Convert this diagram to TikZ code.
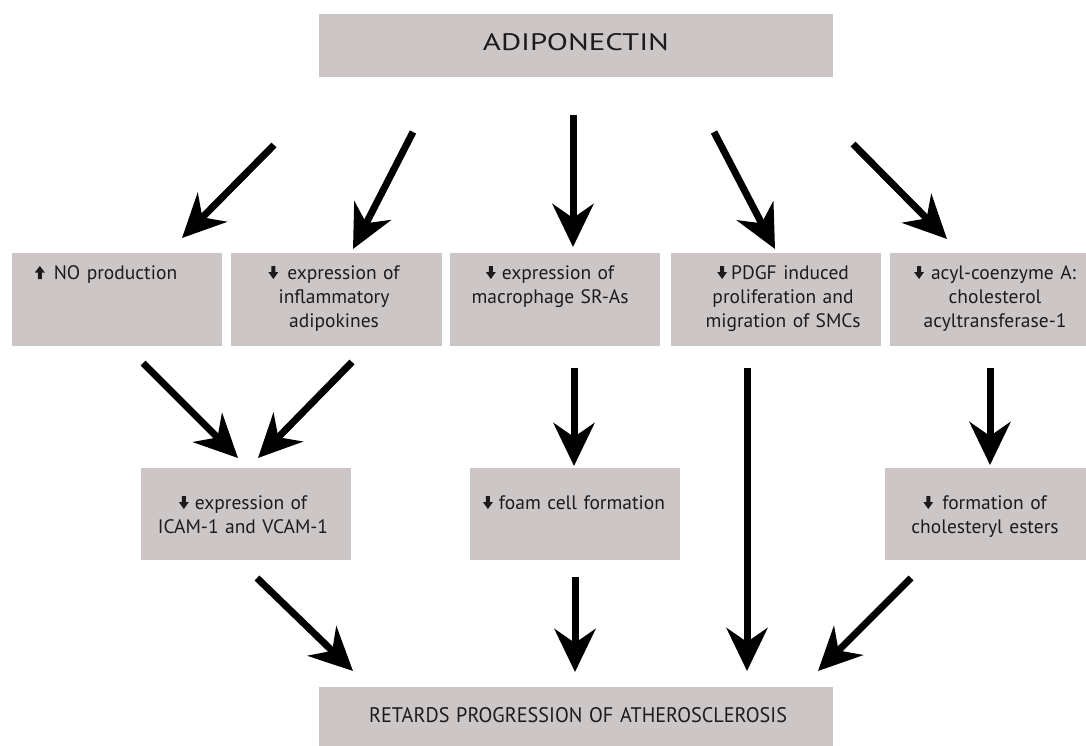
\documentclass[tikz,border=0pt]{standalone}
\usepackage{graphicx}
\usepackage{fontspec}
\setmainfont{PT Sans}
\usetikzlibrary{arrows.meta,calc}
\definecolor{boxfill}{RGB}{205,198,198}
\definecolor{txtcol}{RGB}{30,26,27}
\newcommand\dnarr{\tikz[x=1pt,y=1pt,baseline=0pt]\fill[txtcol] (0,0)--(-5,7)--(-2,7)--(-2,13)--(2,13)--(2,7)--(5,7)--cycle;}
\newcommand\uparr{\tikz[x=1pt,y=1pt,baseline=0pt]\fill[txtcol] (0,13)--(-5,6.5)--(-2,6.5)--(-2,0)--(2,0)--(2,6.5)--(5,6.5)--cycle;}
\begin{document}
\begin{tikzpicture}[x=1pt,y=-1pt,
  box/.style={fill=boxfill, draw=none, inner sep=0pt, minimum width=210pt, minimum height=93pt},
  lbl/.style={text=txtcol, font=\fontsize{19.5pt}{24pt}\selectfont, align=center, text width=208pt, inner sep=0pt, anchor=base},
  flow/.style={line width=7pt, draw=black, -{Stealth[length=43pt,width=41pt,inset=14pt]}}]
\useasboundingbox (0,0) rectangle (1086,745);
\clip (0,0) rectangle (1086,745);
% boxes
\node[box, minimum width=514pt, minimum height=63pt] (top) at (576,45.5) {};
\node[box] (b1) at (117,299.5) {};
\node[box, minimum width=211pt] (b2) at (336.5,299.5) {};
\node[box] (b3) at (555,299.5) {};
\node[box] (b4) at (776,299.5) {};
\node[box] (b5) at (995,299.5) {};
\node[box, minimum height=92pt] (rA) at (246,514) {};
\node[box, minimum height=92pt] (rB) at (575,514) {};
\node[box, minimum height=92pt] (rC) at (990,514) {};
\node[box, minimum width=514pt, minimum height=65pt] (bot) at (576,719.5) {};
% texts
\node[lbl, text width=300pt] (ttop) at (576,50) {\resizebox{186pt}{17pt}{ADIPONECTIN}};
\node[lbl, text width=500pt] (tbot) at (578,722) {\resizebox{418pt}{15pt}{RETARDS PROGRESSION OF ATHEROSCLEROSIS}};
\node[lbl] (t1) at (106,279) {\uparr\hspace{9pt}NO production};
\node[lbl] (t2) at (334,279) {\dnarr\hspace{9pt}expression of\\inflammatory\\adipokines};
\node[lbl] (t3) at (550,279) {\dnarr\hspace{6pt}expression of\\macrophage SR-As};
\node[lbl] (t4) at (783,279) {\dnarr\hspace{4pt}PDGF induced\\proliferation and\\migration of SMCs};
\node[lbl] (t5) at (995,279) {\dnarr\hspace{7pt}acyl-coenzyme A:\\cholesterol\\acyltransferase-1};
\node[lbl] (tA) at (243,509) {\dnarr\hspace{6pt}expression of\\ICAM-1 and VCAM-1};
\node[lbl] (tB) at (574,509) {\dnarr\hspace{6pt}foam cell formation};
\node[lbl] (tC) at (985,509) {\dnarr\hspace{9pt}formation of\\cholesteryl esters};
% arrow end points
\coordinate (a1s) at (274,145); \coordinate (a1e) at (182,238);
\coordinate (a2s) at (413,132); \coordinate (a2e) at (353,249);
\coordinate (a3s) at (573,115); \coordinate (a3e) at (573,247);
\coordinate (a4s) at (714,132); \coordinate (a4e) at (775,249);
\coordinate (a5s) at (853,144); \coordinate (a5e) at (947,239);
\coordinate (c1s) at (143,363); \coordinate (c1e) at (238,458);
\coordinate (c2s) at (352,362); \coordinate (c2e) at (258,458);
\coordinate (c3s) at (574,368); \coordinate (c3e) at (574,466);
\coordinate (c4s) at (747,368); \coordinate (c4e) at (747,671);
\coordinate (c5s) at (990,368); \coordinate (c5e) at (990,465);
\coordinate (d1s) at (257,578); \coordinate (d1e) at (353,671);
\coordinate (d2s) at (575,577); \coordinate (d2e) at (575,672);
\coordinate (d3s) at (911,578); \coordinate (d3e) at (818,671);
% arrows
\foreach \a in {a1,a2,a3,a4,a5,c1,c2,c3,c4,c5,d1,d2,d3}
  \draw[flow] (\a s) -- (\a e);
\end{tikzpicture}
\end{document}
